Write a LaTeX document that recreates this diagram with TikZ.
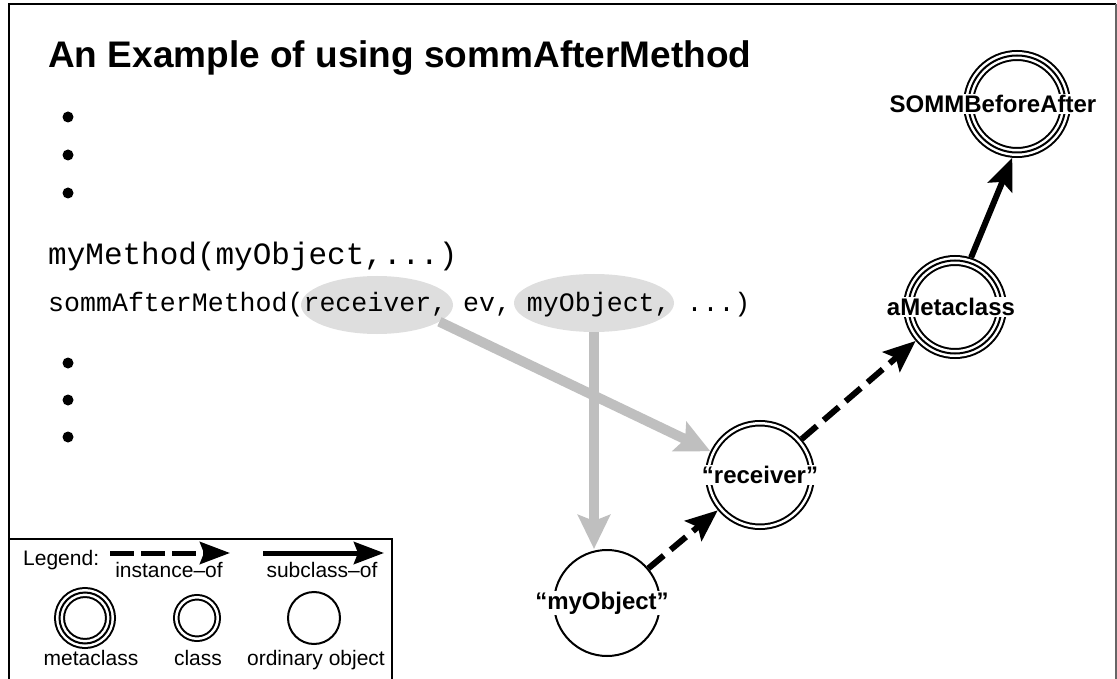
\documentclass[tikz,border=0pt]{standalone}
\usepackage{fontspec}
\setmainfont{Liberation Sans}
\setmonofont{Liberation Mono}
\usetikzlibrary{shapes.geometric,arrows.meta}

\tikzset{
  plainring/.style={circle, draw=black, line width=2pt, minimum size=#1,
    inner sep=0pt, outer sep=1pt},
  classring/.style={circle, minimum size=#1, inner sep=0pt, outer sep=3.25pt,
    preaction={draw=black, line width=6.5pt}, draw=white, line width=2.5pt},
  metaring/.style={circle, minimum size=#1, inner sep=0pt, outer sep=5.5pt,
    preaction={draw=black, line width=11pt},
    preaction={draw=white, line width=7pt}, draw=black, line width=2pt},
  nodelabel/.style={font=\bfseries\fontsize{24}{27}\selectfont, fill=white,
    inner sep=1pt},
  legendtext/.style={font=\fontsize{21}{24}\selectfont, inner sep=0pt},
  instanceof/.style={draw=black, line width=6pt, dash pattern=on 20pt off 9pt,
    -{Stealth[length=32pt, width=26pt, inset=6pt]}},
  subclassof/.style={draw=black, line width=6pt,
    -{Stealth[length=32pt, width=26pt, inset=6pt]}},
  leginstance/.style={draw=black, line width=5pt, dash pattern=on 24pt off 7pt,
    -{Stealth[length=30pt, width=22pt, inset=4pt]}},
  legsubclass/.style={draw=black, line width=5pt,
    -{Stealth[length=30pt, width=22pt, inset=4pt]}},
  argflow/.style={draw=black!25, line width=10pt,
    -{Stealth[length=34pt, width=32pt, inset=6pt]}},
  arghilite/.style={ellipse, fill=black!13, inner sep=0pt},
  bulletdot/.style={circle, fill=black, inner sep=0pt, minimum size=11pt},
}

\begin{document}
\begin{tikzpicture}[x=1pt, y=-1pt]
  \useasboundingbox (0,0) rectangle (1117,679);
  \clip (0,0) rectangle (1117,679);

  % slide frame
  \draw[line width=2pt] (9,679) -- (9,4) -- (1116,4);
  \draw[line width=1.5pt, black!60] (1116,4) -- (1116,679);

  % title
  \node[anchor=base west, inner sep=0pt,
        font=\bfseries\fontsize{37}{44}\selectfont] (title) at (48,68)
    {An Example of using sommAfterMethod};

  % bullet points
  \node[bulletdot] (b1) at (68,117) {};
  \node[bulletdot] (b2) at (68,155) {};
  \node[bulletdot] (b3) at (68,193) {};
  \node[bulletdot] (b4) at (68,363) {};
  \node[bulletdot] (b5) at (68,400) {};
  \node[bulletdot] (b6) at (68,437) {};

  % highlighted arguments
  \node[arghilite, minimum width=152pt, minimum height=58pt] (recvArg) at (377,305) {};
  \node[arghilite, minimum width=160pt, minimum height=58pt] (objArg) at (594,303) {};

  % code lines
  \node[anchor=base west, inner sep=0pt,
        font=\ttfamily\fontsize{31}{36}\selectfont] (call) at (48,265)
    {myMethod(myObject,...)};
  \node[anchor=base west, inner sep=0pt,
        font=\ttfamily\fontsize{26.6}{30}\selectfont] (after) at (48,312)
    {sommAfterMethod(receiver, ev, myObject, ...)};

  % objects
  \node[plainring=106pt, label={[nodelabel, xshift=-5pt]center:“myObject”}] (obj) at (607,603) {};
  \node[classring=103.5pt, label={[nodelabel]center:“receiver”}] (recv) at (760,475) {};
  \node[metaring=93pt, label={[nodelabel, xshift=-4pt]center:aMetaclass}] (meta) at (955,307) {};
  \node[metaring=97pt, label={[nodelabel, xshift=-24pt]center:SOMMBeforeAfter}] (somm) at (1017,104) {};

  % argument flow
  \draw[argflow] (recvArg.-15) -- (recv);
  \draw[argflow] (objArg.south) -- (objArg.south |- obj.north);

  % relations
  \draw[instanceof] (obj) -- (recv);
  \draw[instanceof] (recv) -- (meta);
  \draw[subclassof] (meta.72) -- (somm.-95);

  % legend
  \draw[line width=1.5pt] (9,539) -- (392,539) -- (392,690);
  \node[legendtext, anchor=base west] (legTitle) at (23,565) {Legend:};
  \coordinate (li1) at (110,553);
  \coordinate (li2) at (230,553);
  \coordinate (ls1) at (263,553);
  \coordinate (ls2) at (384,553);
  \draw[leginstance] (li1) -- (li2);
  \draw[legsubclass] (ls1) -- (ls2);
  \node[legendtext, anchor=base] (legInst) at (169,577) {instance–of};
  \node[legendtext, anchor=base] (legSub) at (322,577) {subclass–of};
  \node[metaring=51pt] (legMeta) at (85,618) {};
  \node[classring=41.5pt] (legClass) at (197,618) {};
  \node[plainring=52pt] (legPlain) at (314,618) {};
  \node[legendtext, anchor=base] (legMetaTxt) at (91,665) {metaclass};
  \node[legendtext, anchor=base] (legClassTxt) at (198,665) {class};
  \node[legendtext, anchor=base] (legPlainTxt) at (316,665) {ordinary object};
\end{tikzpicture}
\end{document}
